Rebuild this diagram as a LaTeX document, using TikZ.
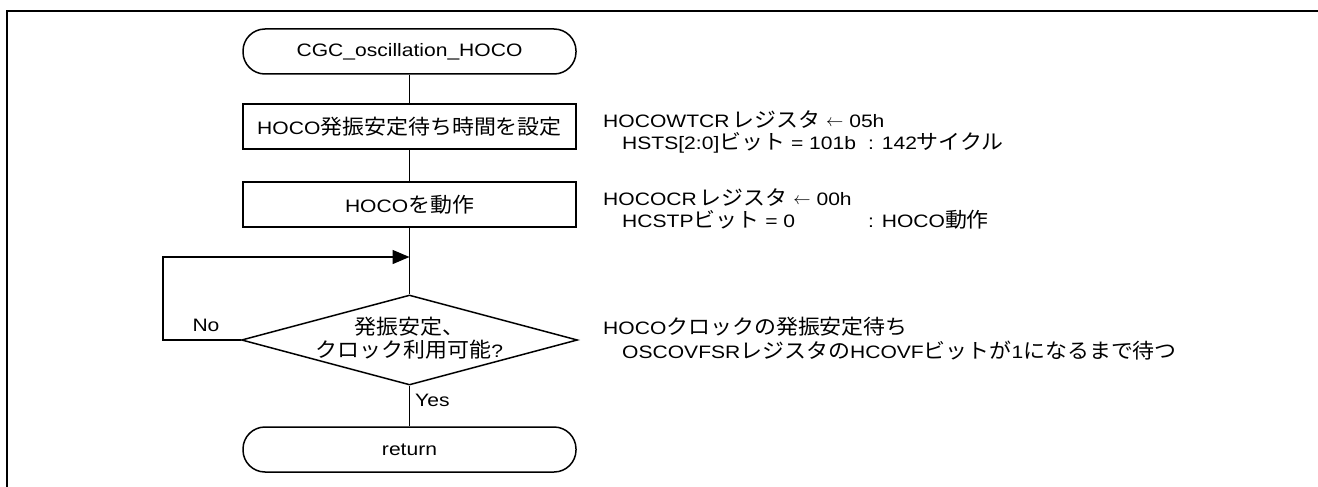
\documentclass[tikz,border=0pt]{standalone}
\usepackage{fontspec}
\setmainfont{Liberation Sans}[FakeStretch=1.17]
\newfontfamily\jp{Noto Sans CJK JP}[Scale=1.15,FakeStretch=1.06]
\usetikzlibrary{shapes.geometric,arrows.meta}
\tikzset{
  flow/.style={line width=1.5pt},
  term/.style={draw, line width=1.5pt, rounded corners=22pt, minimum width=333pt, minimum height=45pt, inner sep=0pt},
  proc/.style={draw, line width=1.5pt, minimum width=333pt, minimum height=45pt, inner sep=0pt},
  dec/.style={draw, diamond, line width=1.5pt, minimum width=336pt, minimum height=90pt, inner sep=0pt},
  note/.style={anchor=base west, inner sep=0pt},
  lbl/.style={inner sep=0pt}
}
\newcommand{\larr}{\raisebox{0.5pt}{$\leftarrow$}}
\begin{document}
\begin{tikzpicture}[x=1pt,y=-1pt, font=\fontsize{18}{23}\selectfont]
\useasboundingbox (0,0) rectangle (1318,487);
% frame
\coordinate (fa) at (7,487);
\coordinate (fb) at (7,11);
\coordinate (fc) at (1318,11);
\draw[line width=2.6pt] (fa) -- (fb) -- (fc);
% nodes
\node[term] (start) at (409.5,51.5) {CGC\_oscillation\_HOCO};
\node[proc] (b1) at (409.5,126.5) {HOCO{\jp 発振安定待ち時間を設定}};
\node[proc] (b2) at (409.5,204.5) {HOCO{\jp を動作}};
\node[dec] (d) at (409.5,340) {};
\node[lbl, align=center] (dtxt) at (409.5,338) {{\jp 発振安定、}\\{\jp クロック利用可能}?};
\node[term] (ret) at (409.5,449.5) {return};
\coordinate (j) at (409.5,257);
\coordinate (lc1) at (163,340);
\coordinate (lc2) at (163,257);
% connectors
\draw[flow] (start.south) -- (b1.north);
\draw[flow] (b1.south) -- (b2.north);
\draw[flow] (b2.south) -- (d.north);
\draw[flow] (d.south) -- (ret.north);
\draw[flow, -{Triangle[length=17pt,width=14pt]}] (d.west) -- (lc1) -- (lc2) -- (j);
\node[lbl] (no) at (206,325) {No};
\node[lbl, anchor=west] (yes) at (415,400) {Yes};
% notes
\node[note] (n1) at (603,127) {HOCOWTCR\,{\jp レジスタ} \larr\ 05h};
\node[note] (n2) at (622,149) {HSTS[2:0]{\jp ビット} = 101b};
\node[note] (n2b) at (868,149) {: 142{\jp サイクル}};
\node[note] (n3) at (603,205) {HOCOCR\,{\jp レジスタ} \larr\ 00h};
\node[note] (n4) at (622,227) {HCSTP{\jp ビット} = 0};
\node[note] (n4b) at (868,227) {: HOCO{\jp 動作}};
\node[note] (n5) at (603,334) {HOCO{\jp クロックの発振安定待ち}};
\node[note] (n6) at (622,358) {OSCOVFSR{\jp レジスタの}HCOVF{\jp ビットが}1{\jp になるまで待つ}};
\end{tikzpicture}
\end{document}
